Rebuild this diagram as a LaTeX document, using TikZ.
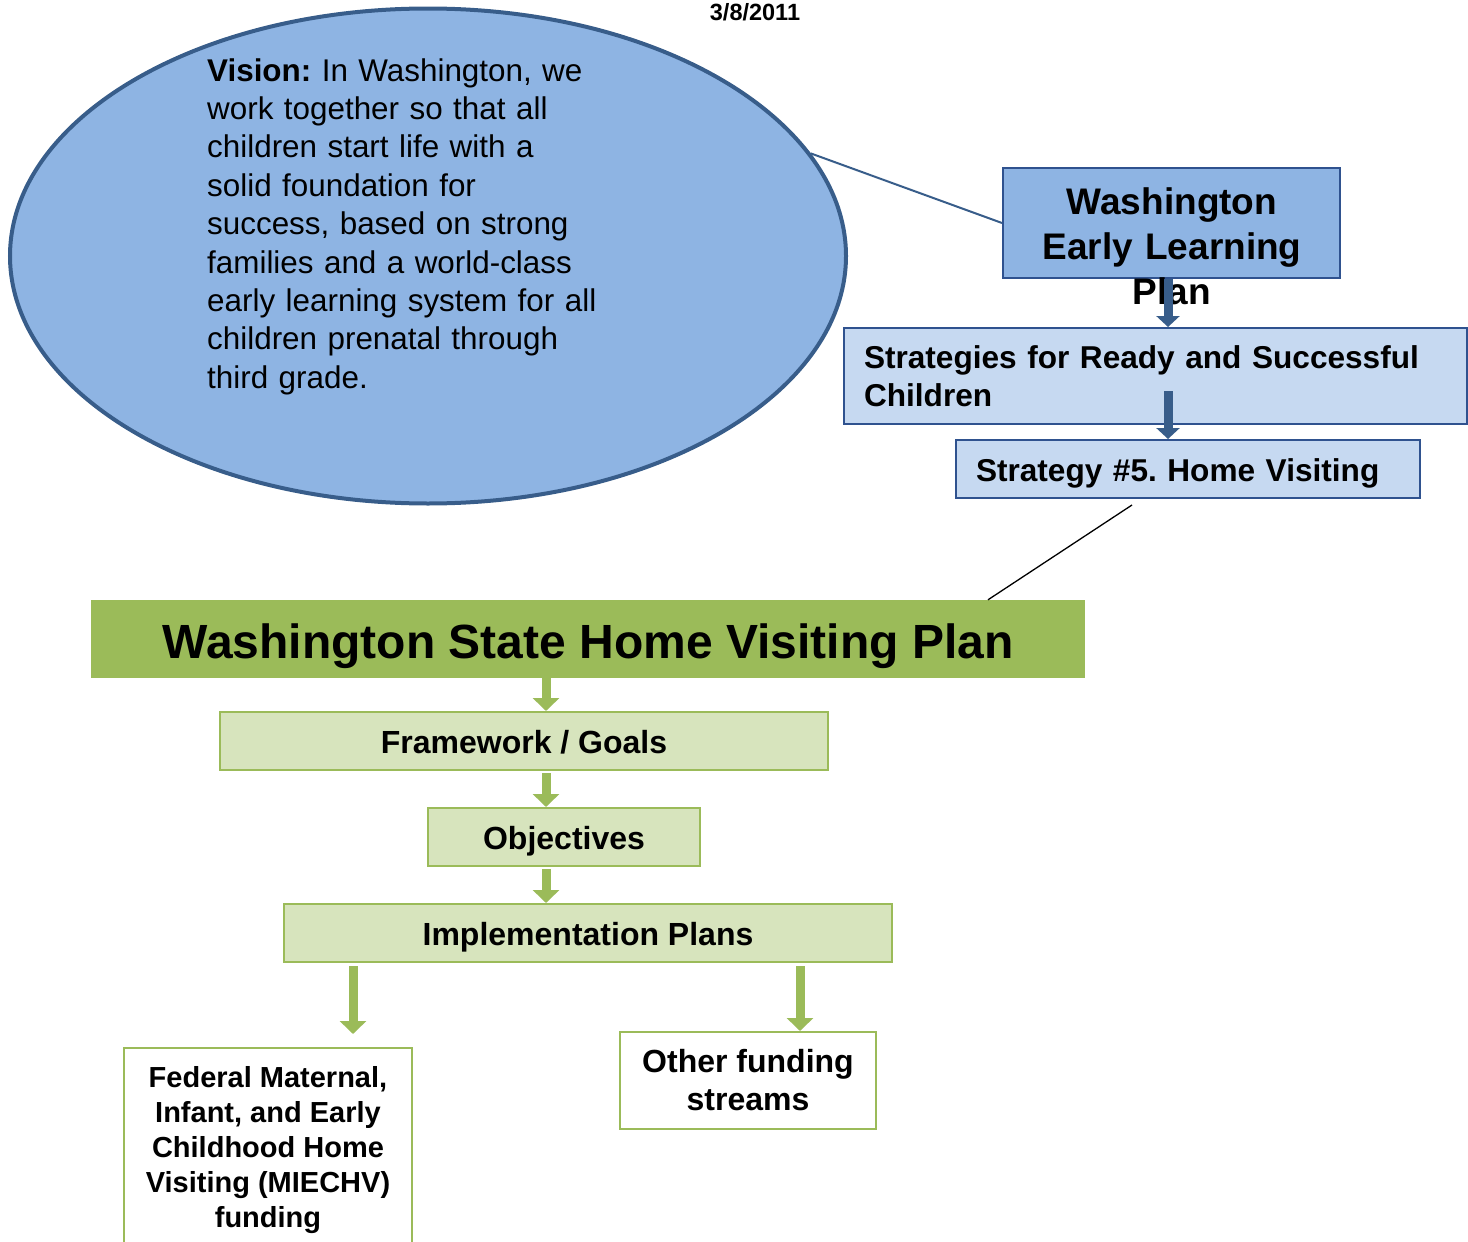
\documentclass[tikz,border=0pt]{standalone}
\usepackage{fontspec}
\setmainfont{Liberation Sans}
\usetikzlibrary{arrows.meta,shapes.geometric}
\frenchspacing
\definecolor{skyblue}{HTML}{8EB4E3}
\definecolor{paleblue}{HTML}{C6D9F1}
\definecolor{edgeblue}{HTML}{2F528F}
\definecolor{arrowblue}{HTML}{385D8A}
\definecolor{plangreen}{HTML}{9BBB59}
\definecolor{palegreen}{HTML}{D7E4BD}
\tikzstyle{vision}=[ellipse,fill=skyblue,draw=arrowblue,line width=4pt]
\tikzstyle{blue box}=[rectangle,draw=edgeblue,line width=2pt,inner sep=0pt]
\tikzstyle{green box}=[rectangle,draw=plangreen,fill=palegreen,line width=2pt,inner sep=0pt,
  text height=25.6pt,text depth=0pt,font=\fontsize{32}{38}\selectfont\bfseries]
\tikzstyle{fund box}=[rectangle,draw=plangreen,fill=white,line width=2pt,inner sep=0pt,align=center]
\tikzstyle{blue arrow}=[draw=arrowblue,line width=9pt,-{Triangle[width=23pt,length=11pt]}]
\tikzstyle{green arrow}=[draw=plangreen,line width=9pt,-{Triangle[width=26pt,length=13pt]}]
\tikzstyle{link}=[draw,line width=2pt]

\begin{document}
\begin{tikzpicture}[x=1pt,y=-1pt]
  \useasboundingbox (0,0) rectangle (1468,1242);

  % The vision bubble and the early learning plan
  \node[font=\fontsize{23.5}{28}\selectfont\bfseries] (date) at (755,12) {3/8/2011};
  \node[vision,minimum width=836,minimum height=495] (ell) at (428,256) {};
  \node[anchor=base west,text width=420,inner sep=0pt,align=left,
        font=\fontsize{31.4}{38.4}\selectfont] (visiontxt) at (207,81)
    {\textbf{Vision:} In Washington, we\\ work together so that all\\ children start life with a\\
     solid foundation for\\ success, based on strong\\ families and a world-class\\
     early learning system for all\\ children prenatal through\\ third grade.};

  \node[blue box,fill=skyblue,minimum width=337,minimum height=110] (wel) at (1171.5,223) {};
  \node[anchor=base,text width=360,inner sep=0pt,align=center,
        font=\fontsize{37}{45}\selectfont\bfseries] (weltxt) at (1172,214)
    {Washington\\ Early Learning\\ Plan};
  \node[blue box,fill=paleblue,minimum width=623,minimum height=96,text width=583,
        inner xsep=20pt,align=left,font=\fontsize{31.6}{38}\selectfont\bfseries] (strat) at (1155.5,376)
    {Strategies for Ready and Successful\\ Children};
  \node[blue box,fill=paleblue,minimum width=464,minimum height=58,text width=424,
        inner xsep=20pt,align=left,text height=25.2pt,text depth=0pt,
        font=\fontsize{31.6}{38}\selectfont\bfseries] (hv) at (1188,469)
    {Strategy \#5. Home Visiting};

  % Connect the upper part
  \coordinate (bx) at (1168,0);
  \path[link,draw=arrowblue] (ell.15) -- (wel.west);
  \path[blue arrow] (wel.south -| bx) -- (bx |- strat.north);
  \path[blue arrow] ([yshift=34pt]bx |- strat.south) -- (bx |- hv.north);

  % The home visiting plan
  \node[rectangle,fill=plangreen,minimum width=994,minimum height=78,text height=38pt,text depth=0pt,
        font=\fontsize{48}{56}\selectfont\bfseries] (title) at (588,639)
    {Washington State Home Visiting Plan};
  \path[link,line width=1.3pt] ([xshift=-56pt,yshift=-6pt]hv.south) -- ([xshift=400pt]title.north);

  \node[green box,minimum width=608,minimum height=58] (fg) at (524,741) {Framework / Goals};
  \node[green box,minimum width=272,minimum height=58] (obj) at (564,837) {Objectives};
  \node[green box,minimum width=608,minimum height=58] (impl) at (588,933) {Implementation Plans};
  \node[fund box,minimum width=288,minimum height=205,font=\fontsize{29}{35}\selectfont\bfseries]
    (fed) at (268,1150.5)
    {Federal Maternal,\\ Infant, and Early\\ Childhood Home\\ Visiting (MIECHV)\\ funding};
  \node[fund box,minimum width=256,minimum height=97,font=\fontsize{32}{38}\selectfont\bfseries]
    (other) at (748,1080.5) {Other funding\\ streams};

  % Green arrows down the plan
  \coordinate (axis) at (546,0);
  \coordinate (lx) at (353,0);
  \coordinate (rx) at (800,0);
  \foreach \source/\dest/\gap in {title/fg/0, fg/obj/2, obj/impl/2}
    \path[green arrow] ([yshift=-\gap pt]\source.south -| axis) -- (\dest.north -| axis);
  \path[green arrow] ([yshift=-3pt]impl.south -| lx) -- ([yshift=13pt]lx |- fed.north);
  \path[green arrow] ([yshift=-3pt]impl.south -| rx) -- (rx |- other.north);
\end{tikzpicture}
\end{document}
